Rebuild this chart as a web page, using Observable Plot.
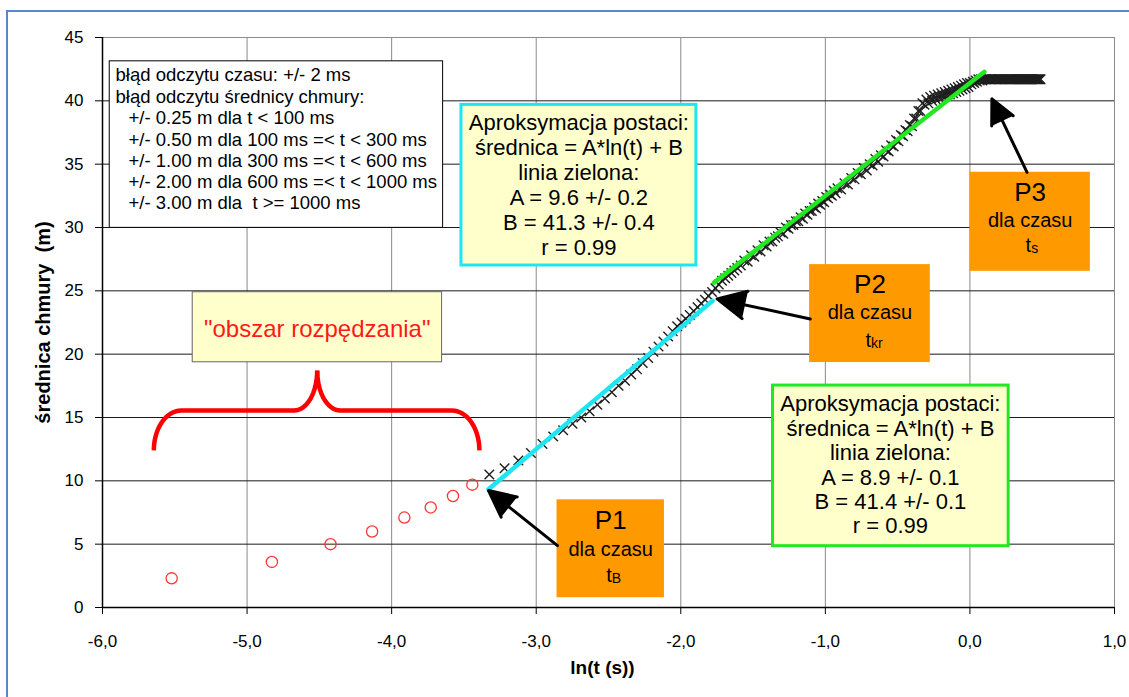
<!DOCTYPE html>
<html>
<head>
<meta charset="utf-8">
<script src="https://cdn.jsdelivr.net/npm/d3@7"></script>
<script src="https://cdn.jsdelivr.net/npm/@observablehq/plot@0.6"></script>
<style>
  html, body { margin: 0; padding: 0; background: #fff; overflow: hidden; }
  #frame { position: absolute; left: 6px; top: 10px; width: 1400px; height: 900px;
           border-left: 2px solid #5b87c6; border-top: 2px solid #5b87c6; }
  #chart { position: absolute; left: 0; top: 0; }
</style>
</head>
<body>
<div id="frame"></div>
<div id="chart"></div>
<script>
// ---- axis ticks ----
const xTicks = [-6, -5, -4, -3, -2, -1, 0, 1];
const yTicks = [0, 5, 10, 15, 20, 25, 30, 35, 40, 45];

// ---- early growth phase (red circles): time in ms, cloud diameter in m ----
const circleMs = [4, 8, 12, 16, 20, 24, 28, 32];
const circleDiam = [2.3, 3.6, 5.0, 6.0, 7.1, 7.9, 8.8, 9.7];

// ---- measured cloud diameter (crosses): time in ms, diameter in m ----
const crossMs = [
  36, 40, 44, 48, 52, 56, 60, 64, 68, 72, 76, 80, 84, 88, 92, 96, 100, 104, 108, 112,
  116, 120, 124, 128, 132, 136, 140, 144, 148, 152, 156, 160, 164, 168, 172, 176, 180, 184, 188, 192,
  196, 200,
  205, 210, 215, 220, 225, 230, 235, 240, 245, 250, 255, 260, 265, 270, 275, 280, 285, 290, 295, 300,
  305, 310, 315, 320, 325, 330, 335, 340, 345, 350, 355, 360, 365, 370, 375, 380, 385, 390, 395, 400,
  410, 420, 430, 440, 450, 460, 470, 480, 490, 500, 510, 520, 530, 540, 550, 560, 570, 580, 590, 600,
  610, 620, 630, 640, 650, 660, 670, 680, 690, 700, 710, 720, 730, 740, 750, 760, 770, 780, 790, 800,
  810, 820, 830, 840, 850, 860, 870, 880, 890, 900, 910, 920, 930, 940, 950, 960, 970, 980, 990, 1000,
  1010, 1020, 1030, 1040, 1050, 1060, 1070, 1080, 1090, 1100, 1110, 1120, 1130, 1140, 1150, 1160, 1170, 1180, 1190, 1200,
  1210, 1220, 1230, 1240, 1250, 1260, 1270, 1280, 1290, 1300, 1310, 1320, 1330, 1340, 1350, 1360, 1370, 1380, 1390, 1400,
  1410, 1420, 1430, 1440, 1450, 1460, 1470, 1480, 1490, 1500, 1510, 1520, 1530, 1540, 1550, 1560, 1570, 1580, 1590, 1600,
  1610, 1620, 1630
];
const crossDiam = [
  10.5, 11.0, 11.6, 12.2, 12.9, 13.5, 14.0, 14.5, 15.0, 15.5, 16.0, 16.5, 17.0, 17.5, 17.9, 18.4, 18.8, 19.3, 19.7, 20.2,
  20.6, 21.0, 21.4, 21.8, 22.2, 22.5, 22.8, 23.1, 23.4, 23.7, 24.0, 24.3, 24.6, 24.9, 25.2, 25.5, 25.8, 26.0, 26.2, 26.4,
  26.6, 26.8,
  27.0, 27.4, 27.3, 27.8, 27.7, 28.2, 28.1, 28.6, 28.5, 28.9, 28.9, 29.2, 29.3, 29.6, 29.5, 30.0, 29.9, 30.2, 30.2, 30.5,
  30.5, 30.8, 30.7, 31.1, 31.0, 31.3, 31.3, 31.6, 31.5, 31.9, 31.8, 32.1, 32.0, 32.4, 32.3, 32.6, 32.5, 32.9, 32.7, 33.1,
  33.0, 33.5, 33.4, 33.9, 33.8, 34.3, 34.2, 34.7, 34.5, 35.0, 34.9, 35.4, 35.2, 35.7, 35.6, 36.1, 36.0, 36.5, 36.4, 36.9,
  36.8, 37.3, 37.2, 37.7, 37.6, 38.1, 38.0, 38.6, 38.6, 39.2, 39.2, 39.8, 39.7, 40.1, 39.8, 40.3, 40.0, 40.4, 40.1, 40.5,
  40.2, 40.6, 40.3, 40.7, 40.4, 40.8, 40.5, 40.9, 40.6, 41.0, 40.7, 41.1, 40.8, 41.2, 40.9, 41.3, 41.0, 41.4, 41.1, 41.4,
  41.3, 41.5, 41.4, 41.6, 41.5, 41.7, 41.6, 41.7, 41.6, 41.7, 41.7, 41.7, 41.7, 41.7, 41.7, 41.7, 41.7, 41.7, 41.7, 41.7,
  41.7, 41.7, 41.7, 41.7, 41.7, 41.7, 41.7, 41.7, 41.7, 41.7, 41.7, 41.7, 41.7, 41.7, 41.7, 41.7, 41.7, 41.7, 41.7, 41.7,
  41.7, 41.7, 41.7, 41.7, 41.7, 41.7, 41.7, 41.7, 41.7, 41.7, 41.7, 41.7, 41.7, 41.7, 41.7, 41.7, 41.7, 41.7, 41.7, 41.7,
  41.7, 41.7, 41.7
];

// ---- logarithmic fits: średnica = A*ln(t) + B ----
const fitCyan = { A: 9.6, B: 41.3, from: -3.33, to: -1.78 };
const fitGreen = { A: 8.9, B: 41.4, from: -1.77, to: 0.10 };

// ---- annotation texts ----
const errorHead = ["błąd odczytu czasu: +/- 2 ms", "błąd odczytu średnicy chmury:"];
const errorRows = [
  "+/- 0.25 m dla t < 100 ms",
  "+/- 0.50 m dla 100 ms =< t < 300 ms",
  "+/- 1.00 m dla 300 ms =< t < 600 ms",
  "+/- 2.00 m dla 600 ms =< t < 1000 ms",
  "+/- 3.00 m dla \u00a0t >= 1000 ms"
];
const fitCyanText = ["Aproksymacja postaci:", "średnica = A*ln(t) + B", "linia zielona:",
  "A = 9.6 +/- 0.2", "B = 41.3 +/- 0.4", "r = 0.99"];
const fitGreenText = ["Aproksymacja postaci:", "średnica = A*ln(t) + B", "linia zielona:",
  "A = 8.9 +/- 0.1", "B = 41.4 +/- 0.1", "r = 0.99"];
const regionLabel = "\"obszar rozpędzania\"";
const pointNames = ["P1", "P2", "P3"];
const pointSubs = ["B", "kr", "s"];

// ---- derived tables ----
const lnT = ms => Math.log(ms / 1000);
const circles = circleMs.map((t, i) => ({ x: lnT(t), y: circleDiam[i] }));
const crosses = crossMs.map((t, i) => ({ x: lnT(t), y: crossDiam[i] }));
const fitLine = f => [{ x: f.from, y: f.A * f.from + f.B }, { x: f.to, y: f.A * f.to + f.B }];

// curly brace over the early-growth region
function braceHalf(xEnd, xPeak, yLow, yMid, yTop, rxEnd, rxPeak, id) {
  const s = Math.sign(xPeak - xEnd), pts = [];
  for (let k = 0; k <= 16; k++) {
    const a = k / 16 * Math.PI / 2;
    pts.push({ x: xEnd + s * rxEnd * (1 - Math.cos(a)), y: yLow + (yMid - yLow) * Math.sin(a), id });
  }
  for (let k = 0; k <= 16; k++) {
    const a = k / 16 * Math.PI / 2;
    pts.push({ x: xPeak - s * rxPeak * (1 - Math.sin(a)), y: yTop - (yTop - yMid) * Math.cos(a), id });
  }
  return pts;
}
const brace = [
  ...braceHalf(-5.645, -4.515, 12.4, 15.55, 18.7, 0.19, 0.16, "L"),
  ...braceHalf(-3.393, -4.515, 12.4, 15.55, 18.7, 0.19, 0.16, "R")
];

const FONT = "'Liberation Sans', Arial, Helvetica, sans-serif";
const ORANGE = "#ff9900", PALE = "#ffffcc", CYAN = "#1de6f2", GREEN = "#22e822";

const box = (x1, x2, y1, y2, o) => Plot.rect([0], { x1, x2, y1, y2, ...o });
const label = (s, x, y, o) => Plot.text([s], { x, y, text: d => d, ...o });

// orange point markers with subscripted time symbol
function pointLabel(i, x1, x2, y1, y2, yName, yDla, yT) {
  const cx = (x1 + x2) / 2;
  return [
    box(x1, x2, y1, y2, { fill: ORANGE }),
    label(pointNames[i], cx, yName, { fontSize: 26, lineAnchor: "middle" }),
    label("dla czasu", cx, yDla, { fontSize: 20, lineAnchor: "middle" }),
    label("t", cx, yT, { fontSize: 20, lineAnchor: "middle", textAnchor: "end", dx: 1 }),
    label(pointSubs[i], cx, yT, { fontSize: 14, lineAnchor: "middle", textAnchor: "start", dx: 1, dy: 3 })
  ];
}

const arrow = (x1, y1, x2, y2) => Plot.arrow([0], {
  x1, y1, x2, y2, stroke: "#000", fill: "#000", strokeWidth: 3, headLength: 16, headAngle: 52
});

const chart = Plot.plot({
  width: 1129,
  height: 697,
  marginLeft: 102,
  marginRight: 15,
  marginTop: 37,
  marginBottom: 90,
  style: { fontFamily: FONT, color: "#000", background: "transparent" },
  x: { domain: [-6, 1] },
  y: { domain: [0, 45] },
  marks: [
    // grid
    Plot.ruleX(xTicks.slice(1), { stroke: "#8a8a8a", strokeWidth: 1 }),
    Plot.ruleY(yTicks.slice(1, -1), { stroke: "#1a1a1a", strokeWidth: 1 }),
    Plot.ruleY([45], { stroke: "#8a8a8a", strokeWidth: 1 }),
    // axes
    Plot.axisX({ ticks: xTicks, tickSize: 7, tickPadding: 20, fontSize: 17, label: null,
      tickFormat: d => d.toFixed(1).replace(".", ",") }),
    Plot.axisY({ ticks: yTicks, tickSize: 7, tickPadding: 12, fontSize: 17, label: null,
      tickFormat: d => String(d) }),
    Plot.ruleX([-6], { stroke: "#000", strokeWidth: 1.5 }),
    Plot.ruleY([0], { stroke: "#000", strokeWidth: 1.5 }),
    Plot.text(["średnica chmury \u00a0(m)"], { frameAnchor: "left", dx: -59, rotate: -90,
      textAnchor: "middle", lineAnchor: "middle", fontWeight: "bold", fontSize: 20, text: d => d }),
    Plot.text(["ln(t (s))"], { frameAnchor: "bottom", dy: 60, dx: -6, lineAnchor: "middle",
      fontWeight: "bold", fontSize: 19, text: d => d }),

    // measurements
    Plot.dot(circles, { x: "x", y: "y", r: 5.6, stroke: "#ff3333", strokeWidth: 1.3, fill: "none" }),
    Plot.dot(crosses, { x: "x", y: "y", symbol: "times", r: 4.4, stroke: "#1e1e1e", strokeWidth: 1.4 }),

    // fitted lines
    Plot.line(fitLine(fitCyan), { x: "x", y: "y", stroke: CYAN, strokeWidth: 4.5 }),
    Plot.line(fitLine(fitGreen), { x: "x", y: "y", stroke: GREEN, strokeWidth: 4.5 }),

    // measurement-error legend
    box(-5.95, -3.644, 29.97, 43.12, { fill: "#fff", stroke: "#000", strokeWidth: 1 }),
    label(errorHead.join("\n"), -5.91, 41.23, { textAnchor: "start", lineAnchor: "middle", lineHeight: 1.15, fontSize: 18.5 }),
    label(errorRows.join("\n"), -5.82, 35.32, { textAnchor: "start", lineAnchor: "middle", lineHeight: 1.15, fontSize: 18.5 }),

    // fit descriptions
    box(-3.517, -1.892, 27.0, 39.68, { fill: PALE, stroke: CYAN, strokeWidth: 3 }),
    label(fitCyanText.join("\n"), -2.705, 33.39, { lineAnchor: "middle", lineHeight: 1.13, fontSize: 22 }),
    box(-1.362, 0.268, 4.84, 17.52, { fill: PALE, stroke: GREEN, strokeWidth: 3 }),
    label(fitGreenText.join("\n"), -0.55, 11.29, { lineAnchor: "middle", lineHeight: 1.11, fontSize: 22 }),

    // early growth region
    box(-5.376, -3.651, 19.36, 24.89, { fill: PALE, stroke: "#666", strokeWidth: 1 }),
    label(regionLabel, -4.515, 22.0, { lineAnchor: "middle", fontSize: 24, fill: "#ff1a1a" }),
    Plot.line(brace, { x: "x", y: "y", z: "id", stroke: "#ff0000", strokeWidth: 4.5, strokeLinecap: "butt" }),

    // characteristic points
    ...pointLabel(0, -2.856, -2.113, 0.77, 8.5, 6.87, 4.55, 2.53),
    ...pointLabel(1, -1.109, -0.274, 19.34, 27.07, 25.49, 23.31, 21.07),
    ...pointLabel(2, 0.0, 0.833, 26.54, 34.36, 32.78, 30.54, 28.57),
    arrow(-2.853, 4.89, -3.33, 9.23),
    arrow(-1.104, 22.78, -1.749, 24.36),
    arrow(0.395, 34.36, 0.152, 40.15)
  ]
});

document.getElementById("chart").append(chart);
</script>
</body>
</html>
